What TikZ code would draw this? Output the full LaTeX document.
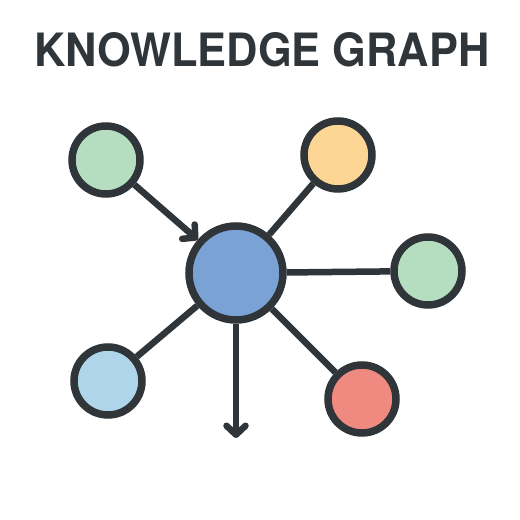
\documentclass[tikz,border=0pt]{standalone}
\usepackage{fontspec}
\setmainfont{TeX Gyre Heros}
\usetikzlibrary{arrows.meta}
\definecolor{ink}{HTML}{2F3538}
\definecolor{cgreen}{HTML}{B5DDBF}
\definecolor{corange}{HTML}{FDD696}
\definecolor{cblue}{HTML}{7BA2D5}
\definecolor{clight}{HTML}{AED5EA}
\definecolor{cred}{HTML}{F08A80}
\tikzset{
  kgnode/.style={circle, draw=ink, line width=7.5pt, minimum size=68pt, inner sep=0pt},
  kglink/.style={draw=ink, line width=6.5pt},
  kgarrow/.style={kglink, -{Straight Barb[length=9pt,width=19pt,round]}},
}
\begin{document}
\begin{tikzpicture}[x=1pt,y=1pt]
\useasboundingbox (0,0) rectangle (520,520);
\node[text=ink] (title) at (262,470) {\resizebox{455pt}{34pt}{\bfseries KNOWLEDGE GRAPH}};
\node[kgnode, fill=cblue, minimum size=94pt] (hub) at (236,247) {};
\node[kgnode, fill=cgreen] (tl) at (106,360) {};
\node[kgnode, fill=corange] (tr) at (338,365) {};
\node[kgnode, fill=cgreen] (r) at (428,249) {};
\node[kgnode, fill=clight] (bl) at (108,139) {};
\node[kgnode, fill=cred] (br) at (362,121) {};
\coordinate (down) at (236,82);
\draw[kgarrow] (tl) -- (hub);
\draw[kglink] (hub) -- (tr);
\draw[kglink] (hub) -- (r);
\draw[kglink] (hub) -- (bl);
\draw[kglink] (hub) -- (br);
\draw[kgarrow] (hub) -- (down);
\end{tikzpicture}
\end{document}
